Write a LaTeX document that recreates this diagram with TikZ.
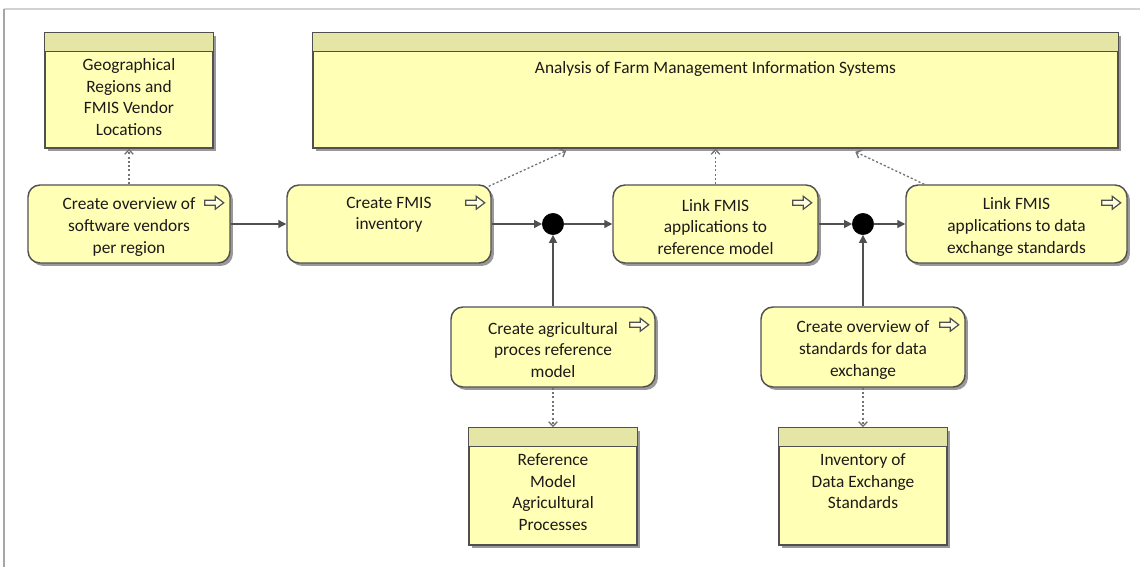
\documentclass[tikz,border=0pt]{standalone}
\usepackage{fontspec}
\setmainfont{Carlito}
\usetikzlibrary{arrows.meta,calc,shadows}

\definecolor{boxfill}{RGB}{255,255,181}
\definecolor{headfill}{RGB}{229,229,165}
\definecolor{edge}{RGB}{80,80,80}
\definecolor{ink}{RGB}{30,25,25}

\tikzset{
  base/.style={draw=edge, line width=1.1pt, fill=boxfill, inner sep=0pt,
    drop shadow={shadow xshift=2.2pt, shadow yshift=-2.2pt, fill=black, opacity=0.4}},
  sized/.style 2 args={minimum width=#1*0.75pt, minimum height=#2*0.75pt},
  act/.style={base, rectangle, rounded corners=9pt, align=center, text=ink,
    font=\fontsize{13}{16.2}\selectfont},
  dataobj/.style={base, rectangle},
  dtext/.style={align=center, text=ink, inner sep=0pt, anchor=north,
    font=\fontsize{13}{16.2}\selectfont},
  junction/.style={circle, fill=black, draw=black, minimum size=16pt, inner sep=0pt},
  flow/.style={draw=edge, line width=1pt, -{Triangle[length=6pt,width=6pt]}},
  access/.style={draw=edge!80, line width=1pt, dash pattern=on 1.6pt off 1.6pt,
    -{Straight Barb[length=3.5pt,width=6.5pt]}},
  procicon/.style={draw=edge, line width=0.9pt, fill=white!60!boxfill, line join=miter},
  headband/.style={fill=headfill, draw=edge, line width=1.1pt},
}

% extra room above the first line of an activity label
\newcommand\topgap{\rule{0pt}{13.5pt}}
% process-arrow symbol in the upper right corner of an activity
\newcommand\procmark[1]{%
  \draw[procicon] ($(#1.north east)+(-16.5,18.5)$) ++(-9.5,-2.5) -- ++(10.5,0)
    -- ++(0,-4) -- ++(8.5,6.5) -- ++(-8.5,6.5) -- ++(0,-4) -- ++(-10.5,0) -- cycle;}
% header band on top of a data object
\newcommand\headband[1]{%
  \draw[headband] (#1.north west) rectangle ($(#1.north east)+(0,19)$);}

\begin{document}
\begin{tikzpicture}[x=0.75pt,y=-0.75pt]
\useasboundingbox (0,0) rectangle (1140,567);

% window frame
\draw[gray!35, line width=0.9pt] (4,9) -- (1140,9);
\draw[gray!70, line width=1.4pt] (4,9) -- (4,567);

% data objects
\node[dataobj, sized={168}{115}] (geo) at (129,90.5) {};
\node[dataobj, sized={805}{115}] (an) at (715.5,90.5) {};
\node[dataobj, sized={168}{117}] (d1) at (553,486.5) {};
\node[dataobj, sized={168}{117}] (d2) at (863,486.5) {};
\headband{geo}
\headband{an}
\headband{d1}
\headband{d2}
\node[dtext] (geot) at ($(geo.north)+(0,26)$) {Geographical\\Regions and\\FMIS Vendor\\Locations};
\node[dtext] (ant) at ($(an.north)+(0,29)$) {Analysis of Farm Management Information Systems};
\node[dtext] (d1t) at ($(d1.north)+(0,26)$) {Reference\\Model\\Agricultural\\Processes};
\node[dtext] (d2t) at ($(d2.north)+(0,26)$) {Inventory of\\Data Exchange\\Standards};

% activities
\node[act, sized={202}{78}] (a1) at (129,224) {\topgap Create overview of\\software vendors\\per region};
\node[act, sized={204}{78}] (a2) at (389,224) {\topgap Create FMIS\\inventory\\\strut};
\node[act, sized={205}{78}] (a3) at (715.5,224) {\topgap Link FMIS\\applications to\\reference model};
\node[act, sized={221}{78}] (a4) at (1016.5,224) {\topgap Link FMIS\\applications to data\\exchange standards};
\node[act, sized={204}{80}] (a5) at (553,347) {\topgap Create agricultural\\proces reference\\model};
\node[act, sized={204}{80}] (a6) at (863,347) {\topgap Create overview of\\standards for data\\exchange};
\foreach \n in {a1,a2,a3,a4,a5,a6} {\procmark{\n}}

% junctions
\node[junction] (j1) at (553,224) {};
\node[junction] (j2) at (863,224) {};

% triggering flow
\draw[flow] (a1.east) -- (a2.west);
\draw[flow] (a2.east) -- (j1.west);
\draw[flow] (j1.east) -- (a3.west);
\draw[flow] (a5.north) -- (j1.south);
\draw[flow] (a3.east) -- (j2.west);
\draw[flow] (j2.east) -- (a4.west);
\draw[flow] (a6.north) -- (j2.south);

% access relations
\draw[access] (a1.north) -- (geo.south);
\draw[access] ($(a2.north east)+(-3,2)$) -- ($(an.south west)+(254,2)$);
\draw[access] (a3.north) -- (a3.north |- an.south);
\draw[access] ($(a4.north west)+(19,0)$) -- ($(an.south west)+(543,3)$);
\draw[access] (a5.south) -- (d1.north);
\draw[access] (a6.south) -- (d2.north);
\end{tikzpicture}
\end{document}
